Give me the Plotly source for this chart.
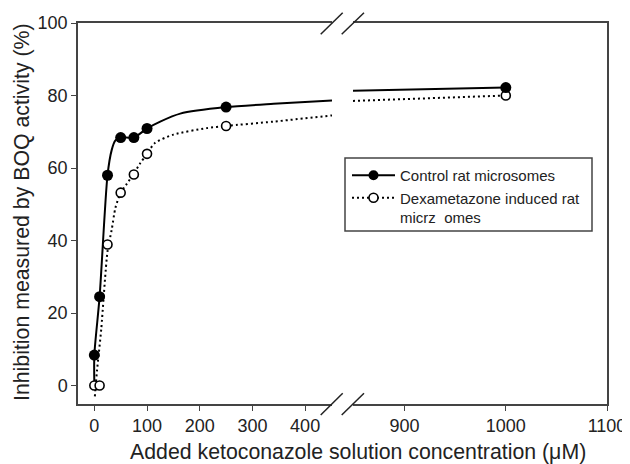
import plotly.graph_objects as go

# ---- data ----
conc = [0, 10, 25, 50, 75, 100, 250]
control_left = [8.4, 24.5, 58.0, 68.4, 68.4, 70.9, 76.8]
dexa_conc = [0, 10, 25, 50, 75, 100, 250]
dexa_left = [0.0, 0.0, 38.9, 53.2, 58.2, 63.9, 71.6]
conc_right = [1000]
control_right = [82.2]
dexa_right = [80.0]

# fitted curves
ctrl_fit_x = [0, 0, 10, 25, 33, 40, 50, 75, 100, 125, 163, 250, 340, 451]
ctrl_fit_y = [0, 8.4, 24.5, 58.0, 65.0, 67.6, 68.4, 68.4, 70.9, 72.8, 75.0, 76.8, 77.7, 78.6]
dexa_fit_x = [1, 5, 13, 25, 33, 40, 50, 61, 75, 87, 100, 115, 150, 213, 250, 340, 451]
dexa_fit_y = [-3.0, 4.0, 15.4, 37.0, 43.0, 49.0, 53.2, 55.5, 58.5, 61.3, 63.9, 66.9, 69.2, 71.0, 71.6, 72.8, 74.5]
fit_x_right = [849, 1000]
ctrl_fit_right = [81.3, 82.2]
dexa_fit_right = [78.5, 80.0]

x_ticks_left = [0, 100, 200, 300, 400]
x_ticks_right = [900, 1000, 1100]
y_ticks = [0, 20, 40, 60, 80, 100]

names = ["Control rat microsomes", "Dexametazone induced rat<br>micrz\u00a0\u00a0omes"]

# ---- layout geometry (page pixels; the page body has an 8px margin) ----
OFF = 8
W, H = 630 - OFF, 464 - OFF
L, R, T, B = 78, 607, 23, 404          # plot area in page pixels
PW, PH = R - L, B - T

def px(x):
    return (x - L) / PW

def py(y):
    return (B - y) / PH

FONT = "Liberation Sans, Arial, Helvetica, sans-serif"
AX = "#444444"
DOT = "2px,3px"

fig = go.Figure()

# fit lines
fig.add_trace(go.Scatter(x=ctrl_fit_x, y=ctrl_fit_y, xaxis="x", yaxis="y", mode="lines",
                         line=dict(color="black", width=2, shape="spline", smoothing=0.7),
                         showlegend=False, hoverinfo="skip"))
fig.add_trace(go.Scatter(x=dexa_fit_x, y=dexa_fit_y, xaxis="x", yaxis="y", mode="lines",
                         line=dict(color="black", width=2, dash=DOT, shape="spline", smoothing=0.7),
                         showlegend=False, hoverinfo="skip"))
fig.add_trace(go.Scatter(x=fit_x_right, y=ctrl_fit_right, xaxis="x2", yaxis="y2", mode="lines",
                         line=dict(color="black", width=2), showlegend=False, hoverinfo="skip"))
fig.add_trace(go.Scatter(x=fit_x_right, y=dexa_fit_right, xaxis="x2", yaxis="y2", mode="lines",
                         line=dict(color="black", width=2, dash=DOT), showlegend=False, hoverinfo="skip"))

filled = dict(symbol="circle", size=11, color="black", line=dict(color="black", width=0))
hollow = dict(symbol="circle", size=9, color="white", line=dict(color="black", width=1.6))

# data markers
fig.add_trace(go.Scatter(x=dexa_conc, y=dexa_left, xaxis="x", yaxis="y", mode="markers",
                         marker=hollow, showlegend=False, cliponaxis=False))
fig.add_trace(go.Scatter(x=conc, y=control_left, xaxis="x", yaxis="y", mode="markers",
                         marker=filled, showlegend=False, cliponaxis=False))
fig.add_trace(go.Scatter(x=conc_right, y=dexa_right, xaxis="x2", yaxis="y2", mode="markers",
                         marker=hollow, showlegend=False, cliponaxis=False))
fig.add_trace(go.Scatter(x=conc_right, y=control_right, xaxis="x2", yaxis="y2", mode="markers",
                         marker=filled, showlegend=False, cliponaxis=False))

# legend proxies
fig.add_trace(go.Scatter(x=[None], y=[None], mode="lines+markers", name=names[0],
                         line=dict(color="black", width=2),
                         marker=dict(symbol="circle", size=10, color="black")))
fig.add_trace(go.Scatter(x=[None], y=[None], mode="lines+markers", name=names[1],
                         line=dict(color="black", width=2, dash=DOT),
                         marker=dict(symbol="circle", size=9, color="white",
                                     line=dict(color="black", width=1.6))))

axis_common = dict(showgrid=False, zeroline=False, showline=True, linecolor=AX, linewidth=1.5,
                   ticks="outside", ticklen=5, tickwidth=1.2, tickcolor=AX,
                   tickfont=dict(family=FONT, size=18, color="#222"))

d1 = px(332)
d2 = px(353)

fig.update_layout(
    width=W, height=H,
    margin=dict(l=L - OFF, r=630 - R, t=T - OFF, b=464 - B, autoexpand=False),
    paper_bgcolor="white", plot_bgcolor="white",
    font=dict(family=FONT, color="#222"),
    xaxis=dict(domain=[0, d1], range=[-31, 451], tickvals=x_ticks_left, anchor="y",
               mirror=True, **axis_common),
    xaxis2=dict(domain=[d2, 1], range=[849, 1100], tickvals=x_ticks_right, anchor="y2",
                mirror=True, **axis_common),
    yaxis=dict(domain=[0, 1], range=[-5.1, 100], tickvals=y_ticks, anchor="x",
               mirror=False, **axis_common),
    yaxis2=dict(domain=[0, 1], range=[-5.1, 100], tickvals=y_ticks, anchor="x2", matches="y",
                side="right", showgrid=False, zeroline=False, showline=True, linecolor=AX,
                linewidth=1.5, ticks="", showticklabels=False),
    legend=dict(x=px(347), y=py(159), xanchor="left", yanchor="top",
                bgcolor="rgba(0,0,0,0)", borderwidth=0, itemwidth=43, valign="top",
                font=dict(family=FONT, size=15, color="#222"), tracegroupgap=0),
    showlegend=True,
)

shapes = []
# legend box
shapes.append(dict(type="rect", xref="paper", yref="paper", x0=px(345), x1=px(592),
                   y0=py(231), y1=py(158), line=dict(color=AX, width=1.5)))
# axis break marks
for (x0, y0, x1, y1) in [(320.7, 34.3, 342.7, 12.7), (341.7, 34.3, 364, 12.7),
                         (320.7, 415, 342.7, 393.3), (341.7, 415, 364, 393.3)]:
    shapes.append(dict(type="line", xref="paper", yref="paper", x0=px(x0), y0=py(y0),
                       x1=px(x1), y1=py(y1), line=dict(color="#222", width=1.5)))
fig.update_layout(shapes=shapes)

fig.add_annotation(text="Added ketoconazole solution concentration (\u03bcM)", xref="paper", yref="paper",
                   x=px(358), y=py(452), xanchor="center", yanchor="middle", showarrow=False,
                   font=dict(family=FONT, size=21.3, color="#222"))
fig.add_annotation(text="Inhibition measured by BOQ activity (%)", xref="paper", yref="paper",
                   x=px(22), y=py(212), xanchor="center", yanchor="middle", showarrow=False,
                   textangle=-90, font=dict(family=FONT, size=21.3, color="#222"))

fig.write_html("out.html")
